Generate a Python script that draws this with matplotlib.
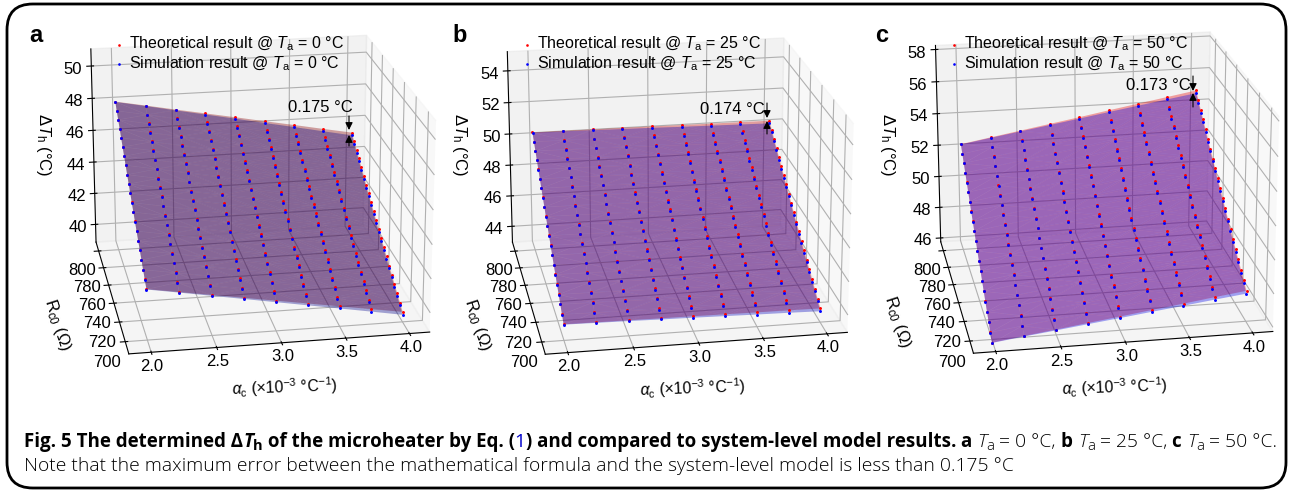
import matplotlib
matplotlib.use('Agg')
import matplotlib.pyplot as plt
from matplotlib.patches import FancyBboxPatch, FancyArrowPatch
import numpy as np

plt.rcParams['font.family'] = ['Liberation Sans', 'DejaVu Sans']
plt.rcParams['mathtext.fontset'] = 'custom'
plt.rcParams['mathtext.it'] = 'Liberation Sans:italic'
plt.rcParams['mathtext.rm'] = 'Liberation Sans'

alpha_c = [2.0, 2.25, 2.5, 2.75, 3.0, 3.25, 3.5, 3.75, 4.0]
r_c0 = [700, 705, 710, 715, 720, 725, 730, 735, 740, 745, 750, 755, 760, 765, 770, 775, 780, 785, 790, 795, 800]

# theoretical dT_h, one row per r_c0, one column per alpha_c
z_a = [
    [41.85, 41.55, 41.25, 40.95, 40.65, 40.35, 40.05, 39.75, 39.45],
    [42.15, 41.85, 41.55, 41.24, 40.94, 40.64, 40.34, 40.04, 39.73],
    [42.45, 42.15, 41.84, 41.54, 41.23, 40.93, 40.63, 40.32, 40.02],
    [42.75, 42.44, 42.14, 41.83, 41.52, 41.22, 40.91, 40.60, 40.30],
    [43.06, 42.75, 42.44, 42.13, 41.82, 41.52, 41.21, 40.90, 40.59],
    [43.36, 43.05, 42.74, 42.43, 42.12, 41.81, 41.49, 41.18, 40.87],
    [43.67, 43.36, 43.04, 42.73, 42.42, 42.10, 41.79, 41.48, 41.17],
    [43.98, 43.67, 43.35, 43.04, 42.72, 42.41, 42.09, 41.78, 41.46],
    [44.29, 43.97, 43.65, 43.34, 43.02, 42.70, 42.38, 42.06, 41.75],
    [44.61, 44.29, 43.97, 43.65, 43.33, 43.01, 42.69, 42.37, 42.05],
    [44.93, 44.61, 44.29, 43.96, 43.64, 43.32, 43.00, 42.68, 42.35],
    [45.24, 44.92, 44.59, 44.27, 43.95, 43.62, 43.30, 42.97, 42.65],
    [45.56, 45.23, 44.91, 44.58, 44.26, 43.93, 43.60, 43.28, 42.95],
    [45.89, 45.56, 45.23, 44.90, 44.57, 44.24, 43.92, 43.59, 43.26],
    [46.21, 45.88, 45.55, 45.22, 44.89, 44.56, 44.22, 43.89, 43.56],
    [46.54, 46.21, 45.87, 45.54, 45.21, 44.88, 44.54, 44.21, 43.88],
    [46.87, 46.53, 46.20, 45.86, 45.53, 45.19, 44.86, 44.52, 44.19],
    [47.20, 46.86, 46.53, 46.19, 45.85, 45.52, 45.18, 44.84, 44.50],
    [47.53, 47.19, 46.85, 46.51, 46.17, 45.83, 45.49, 45.15, 44.81],
    [47.86, 47.52, 47.18, 46.83, 46.49, 46.15, 45.81, 45.47, 45.12],
    [48.20, 47.86, 47.51, 47.17, 46.83, 46.48, 46.14, 45.79, 45.45],
]
z_b = [
    [43.92, 43.90, 43.89, 43.87, 43.86, 43.84, 43.82, 43.81, 43.79],
    [44.23, 44.21, 44.20, 44.18, 44.17, 44.15, 44.13, 44.12, 44.10],
    [44.55, 44.53, 44.52, 44.50, 44.49, 44.47, 44.46, 44.44, 44.43],
    [44.86, 44.85, 44.83, 44.82, 44.80, 44.79, 44.77, 44.76, 44.74],
    [45.18, 45.17, 45.15, 45.14, 45.12, 45.11, 45.09, 45.08, 45.06],
    [45.50, 45.49, 45.47, 45.46, 45.44, 45.43, 45.41, 45.40, 45.38],
    [45.82, 45.81, 45.79, 45.78, 45.76, 45.75, 45.73, 45.72, 45.70],
    [46.14, 46.13, 46.11, 46.10, 46.08, 46.07, 46.06, 46.04, 46.03],
    [46.47, 46.46, 46.44, 46.43, 46.41, 46.40, 46.39, 46.37, 46.36],
    [46.80, 46.79, 46.77, 46.76, 46.74, 46.73, 46.72, 46.70, 46.69],
    [47.13, 47.12, 47.10, 47.09, 47.08, 47.06, 47.05, 47.04, 47.02],
    [47.46, 47.45, 47.43, 47.42, 47.41, 47.40, 47.38, 47.37, 47.36],
    [47.79, 47.78, 47.76, 47.75, 47.74, 47.73, 47.71, 47.70, 47.69],
    [48.13, 48.12, 48.10, 48.09, 48.08, 48.07, 48.05, 48.04, 48.03],
    [48.46, 48.45, 48.44, 48.42, 48.41, 48.40, 48.39, 48.37, 48.36],
    [48.80, 48.79, 48.78, 48.76, 48.75, 48.74, 48.73, 48.72, 48.70],
    [49.14, 49.13, 49.12, 49.10, 49.09, 49.08, 49.07, 49.06, 49.04],
    [49.49, 49.48, 49.47, 49.45, 49.44, 49.43, 49.42, 49.41, 49.39],
    [49.83, 49.82, 49.81, 49.80, 49.78, 49.77, 49.76, 49.75, 49.74],
    [50.18, 50.17, 50.16, 50.15, 50.14, 50.13, 50.11, 50.10, 50.09],
    [50.53, 50.52, 50.51, 50.50, 50.49, 50.47, 50.46, 50.45, 50.44],
]
z_c = [
    [45.56, 45.82, 46.07, 46.33, 46.58, 46.84, 47.09, 47.35, 47.60],
    [45.89, 46.15, 46.41, 46.66, 46.92, 47.18, 47.44, 47.70, 47.95],
    [46.22, 46.48, 46.74, 47.01, 47.27, 47.53, 47.79, 48.05, 48.32],
    [46.55, 46.82, 47.08, 47.35, 47.61, 47.88, 48.14, 48.41, 48.67],
    [46.88, 47.15, 47.42, 47.68, 47.95, 48.22, 48.49, 48.76, 49.02],
    [47.22, 47.49, 47.76, 48.04, 48.31, 48.58, 48.85, 49.12, 49.40],
    [47.56, 47.84, 48.11, 48.39, 48.66, 48.94, 49.21, 49.49, 49.76],
    [47.90, 48.18, 48.46, 48.73, 49.01, 49.29, 49.57, 49.85, 50.12],
    [48.24, 48.52, 48.80, 49.08, 49.36, 49.65, 49.93, 50.21, 50.49],
    [48.58, 48.87, 49.15, 49.44, 49.72, 50.01, 50.29, 50.58, 50.86],
    [48.93, 49.22, 49.51, 49.79, 50.08, 50.37, 50.66, 50.95, 51.23],
    [49.28, 49.57, 49.86, 50.15, 50.44, 50.74, 51.03, 51.32, 51.61],
    [49.63, 49.93, 50.22, 50.52, 50.81, 51.11, 51.40, 51.70, 51.99],
    [49.98, 50.28, 50.58, 50.87, 51.17, 51.47, 51.77, 52.07, 52.36],
    [50.33, 50.63, 50.93, 51.23, 51.53, 51.84, 52.14, 52.44, 52.74],
    [50.69, 51.00, 51.30, 51.61, 51.91, 52.22, 52.52, 52.83, 53.13],
    [51.05, 51.36, 51.67, 51.97, 52.28, 52.59, 52.90, 53.21, 53.51],
    [51.41, 51.72, 52.03, 52.34, 52.65, 52.97, 53.28, 53.59, 53.90],
    [51.77, 52.08, 52.40, 52.71, 53.03, 53.34, 53.65, 53.97, 54.28],
    [52.13, 52.45, 52.77, 53.08, 53.40, 53.72, 54.04, 54.36, 54.67],
    [52.50, 52.82, 53.14, 53.46, 53.78, 54.11, 54.43, 54.75, 55.07],
]
# simulation minus theoretical, per alpha_c column
gap_a = [-0.02, -0.03, -0.05, -0.07, -0.09, -0.11, -0.13, -0.15, -0.175]
gap_b = [-0.02, -0.03, -0.05, -0.07, -0.09, -0.11, -0.13, -0.15, -0.174]
gap_c = [-0.02, -0.03, -0.05, -0.07, -0.09, -0.11, -0.13, -0.15, -0.173]

W, H = 1293, 493
fig = plt.figure(figsize=(W/100, H/100), dpi=100)
fig.patches.append(FancyBboxPatch((7/W, 5/H), 1279/W, 484/H, boxstyle='round,pad=0,rounding_size=0.02',
    transform=fig.transFigure, fc='white', ec='black', lw=2, mutation_aspect=W/H, zorder=-1))

def ftext(x, y, s, **kw):
    return fig.text(x/W, 1 - y/H, s, **kw)

def panel(left, bottom, legx, z, gap, zlim, zticks, zbox, ta):
    ax = fig.add_axes([left/W, bottom/H, 420/W, 400/H], projection='3d', computed_zorder=False)
    ax.patch.set_alpha(0)
    ax.view_init(elev=20, azim=-100)
    ax.set_box_aspect((4, 4, zbox), zoom=1.13)
    X, Y = np.meshgrid(alpha_c, r_c0)
    Z = np.array(z)
    Z2 = Z + np.array(gap)
    ax.plot_trisurf(X.ravel(), Y.ravel(), Z.ravel(), color='red', alpha=0.35, zorder=1)
    ax.plot_trisurf(X.ravel(), Y.ravel(), Z2.ravel(), color='blue', alpha=0.35, zorder=2)
    ax.scatter(X.ravel(), Y.ravel(), Z.ravel(), c='red', s=4.5, linewidths=0, depthshade=False, zorder=3, label='Theoretical result @ $T_{\\mathrm{a}}$ = %d °C' % ta)
    ax.scatter(X.ravel(), Y.ravel(), Z2.ravel(), c='blue', s=4.5, linewidths=0, depthshade=False, zorder=4, label='Simulation result @ $T_{\\mathrm{a}}$ = %d °C' % ta)
    ax.set_xlim(1.83, 4.16); ax.set_ylim(688, 811); ax.set_zlim(*zlim)
    ax.set_xticks([2, 2.5, 3, 3.5, 4]); ax.set_yticks(range(700, 801, 20)); ax.set_zticks(zticks)
    ax.tick_params(labelsize=12, pad=1)
    ax.tick_params(axis='x', pad=-5)
    ax.legend(loc='upper left', bbox_to_anchor=(legx/W, 1 - 35/H), bbox_transform=fig.transFigure,
              frameon=False, fontsize=11.5, handlelength=0.8, handletextpad=0.2, labelspacing=0.07, borderpad=0, borderaxespad=0, markerscale=0.9)
    return ax

panel(39, 102, 113, z_a, gap_a, (38.85, 51.05), range(40, 51, 2), 2.94, 0)
panel(456, 100.5, 521, z_b, gap_b, (42.95, 55.2), range(44, 55, 2), 2.89, 25)
panel(883, 104, 948, z_c, gap_c, (45.75, 58.25), range(46, 59, 2), 3, 50)

xlab = [(285, 387), (693, 388), (1115, 387)]
rlab = [(57, 325), (477, 325), (897, 322)]
zlab = [(43, 145), (459, 145), (887, 145)]
for i in range(3):
    ftext(xlab[i][0], xlab[i][1], '$\\alpha_{\\mathrm{c}}$ (×10$^{-3}$ °C$^{-1}$)', fontsize=11.3, ha='center', va='center', rotation=2)
    ftext(rlab[i][0], rlab[i][1], 'R$_{\\mathrm{c0}}$ (Ω)', fontsize=12, ha='center', va='center', rotation=-72)
    ftext(zlab[i][0], zlab[i][1], '$\\Delta T_{\\mathrm{h}}$ (°C)', fontsize=12, ha='center', va='center', rotation=-90)
for x, s in ((29, 'a'), (452, 'b'), (875, 'c')):
    ftext(x, 35, s, fontsize=17, fontweight='bold', ha='left', va='center')

notes = [('0.175 °C', 320, 108, 349, 116, 130, 146, 135), ('0.174 °C', 732, 109, 767, 103, 118, 134, 121), ('0.173 °C', 1158, 86, 1193, 76, 91, 107, 93)]
for s, tx, ty, ax_x, y0, y1, y2, y3 in notes:
    ftext(tx, ty, s, fontsize=12, ha='center', va='center')
    for a, b in ((y0, y1), (y2, y3)):
        fig.add_artist(FancyArrowPatch((ax_x/W, 1-a/H), (ax_x/W, 1-b/H), transform=fig.transFigure, arrowstyle='-|>', mutation_scale=11, color='black', lw=0.8, shrinkA=0, shrinkB=0))

GR = '#000000'
cap1 = [('Fig. 5 The determined Δ', 'bold', 'normal', 'k', 0), ('T', 'bold', 'italic', 'k', 0), ('h', 'bold', 'normal', 'k', 4),
        (' of the microheater by Eq. (', 'bold', 'normal', 'k', 0), ('1', 'normal', 'normal', '#0000cc', 0),
        (') and compared to system-level model results. ', 'bold', 'normal', 'k', 0), ('a ', 'bold', 'normal', 'k', 0),
        ('T', 'light', 'italic', GR, 0), ('a', 'light', 'normal', GR, 4), (' = 0 °C, ', 'light', 'normal', GR, 0),
        ('b ', 'bold', 'normal', 'k', 0), ('T', 'light', 'italic', GR, 0), ('a', 'light', 'normal', GR, 4),
        (' = 25 °C, ', 'light', 'normal', GR, 0), ('c ', 'bold', 'normal', 'k', 0), ('T', 'light', 'italic', GR, 0),
        ('a', 'light', 'normal', GR, 4), (' = 50 °C.', 'light', 'normal', GR, 0)]
fig.canvas.draw()
r = fig.canvas.get_renderer()
x = 24
for s, w, st, c, sub in cap1:
    size = 13.5 if w == 'bold' else 13.9
    t = ftext(x, 442 + sub, s, family='Open Sans', fontsize=size - (3 if sub else 0), fontweight=w, style=st, color=c, ha='left', va='center')
    x += t.get_window_extent(r).width
ftext(24, 466, 'Note that the maximum error between the mathematical formula and the system-level model is less than 0.175 °C',
      family='Open Sans', fontsize=13.9, fontweight='light', color=GR, ha='left', va='center')
fig.savefig('out.png', dpi=100)
